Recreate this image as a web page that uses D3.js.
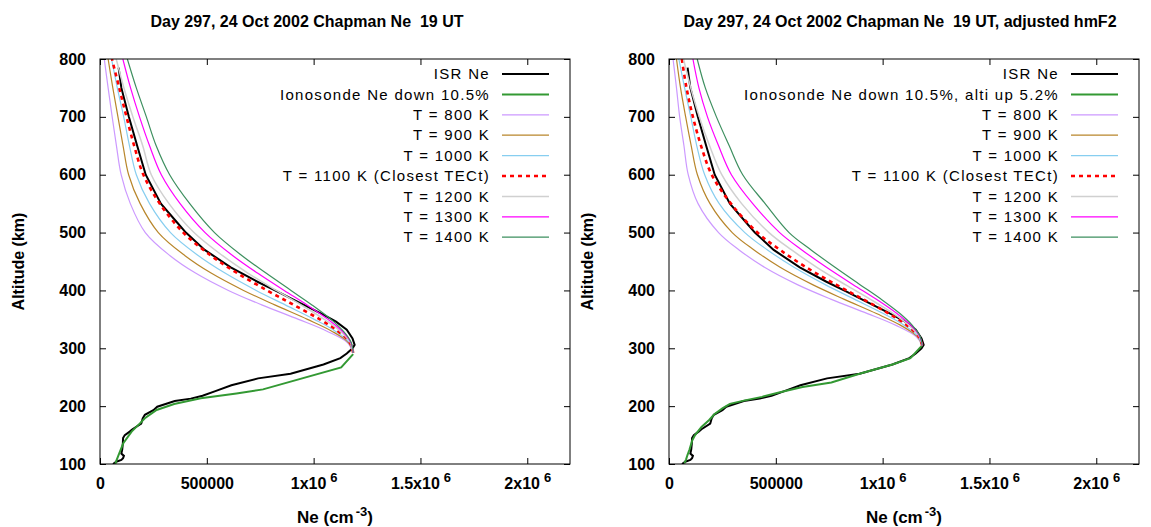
<!DOCTYPE html>
<html>
<head>
<meta charset="utf-8">
<script src="https://cdn.jsdelivr.net/npm/d3@7"></script>
<style>
body { margin: 0; background: #fff; }
text { font-family: "Liberation Sans", Arial, sans-serif; }
</style>
</head>
<body>
<svg id="chart" width="1151" height="527"></svg>
<script>
// Ne in units of 1000 cm^-3, altitude in km

// Chapman profiles, left panel (ionosonde hmF2)
var altL = [292, 310, 330, 350, 375, 400, 430, 460, 500, 550, 600, 650, 700, 750, 800];
var t800L  = [1185, 1158, 1060, 929, 757, 601, 447, 328, 212, 142, 99, 77, 57, 38, 20];
var t900L  = [1185, 1163, 1083, 971, 818, 672, 520, 398, 273, 188, 134, 108, 84, 60, 38];
var t1000L = [1185, 1167, 1100, 1003, 867, 731, 585, 461, 330, 232, 170, 138, 111, 81, 54];
var t1100L = [1185, 1170, 1113, 1029, 907, 782, 642, 520, 390, 280, 203, 160, 124, 90, 56];
var t1200L = [1185, 1172, 1123, 1050, 941, 825, 692, 574, 440, 323, 240, 200, 154, 112, 76];
var t1300L = [1185, 1174, 1132, 1067, 969, 862, 737, 622, 492, 375, 287, 232, 185, 143, 107];
var t1400L = [1185, 1176, 1138, 1081, 992, 894, 777, 665, 536, 420, 326, 263, 217, 170, 128];

// Chapman profiles, right panel (adjusted hmF2)
var altR = [305, 320, 340, 360, 385, 410, 440, 470, 500, 550, 600, 650, 700, 750, 800];
var t800R  = [1185, 1158, 1060, 929, 757, 601, 447, 328, 232, 136, 90, 70, 50, 35, 19];
var t900R  = [1185, 1163, 1083, 971, 818, 672, 520, 398, 296, 192, 133, 104, 78, 54, 35];
var t1000R = [1185, 1167, 1100, 1003, 867, 731, 585, 461, 355, 235, 167, 130, 102, 73, 46];
var t1100R = [1185, 1170, 1113, 1029, 907, 782, 642, 520, 414, 290, 200, 150, 112, 82, 60];
var t1200R = [1185, 1172, 1123, 1050, 941, 825, 692, 574, 468, 340, 247, 190, 142, 102, 68];
var t1300R = [1185, 1174, 1132, 1067, 969, 862, 737, 622, 518, 392, 292, 232, 180, 140, 112];
var t1400R = [1185, 1176, 1138, 1081, 992, 894, 777, 665, 562, 450, 345, 282, 222, 170, 132];

// ISR measured profile (same in both panels)
var isrAlt = [785, 750, 700, 650, 600, 550, 517, 500, 470, 440, 415, 398, 375, 358, 346, 332, 317, 306,
              300, 291, 283, 272, 256, 248, 236, 226, 218, 213, 209, 205, 199, 193, 185, 179, 170, 160,
              156, 150, 145, 136, 125, 118, 114, 110, 107, 104, 100];
var isrNe  = [87, 100, 135, 174, 214, 285, 362, 402, 490, 612, 737, 831, 954, 1045, 1105, 1155, 1182, 1192,
              1182, 1155, 1125, 1046, 892, 740, 615, 540, 480, 425, 350, 318, 268, 250, 210, 200, 193, 152,
              139, 116, 108, 107, 104, 100, 112, 108, 100, 76, 61];

// ionosonde profiles
var ionoAltL = [290, 267, 229, 222, 213.5, 203.7, 193.4, 179, 170.3, 155.9, 135.8, 118.5, 104, 100];
var ionoNeL  = [1185, 1129, 763, 639, 472, 347, 265, 210, 187, 148, 109, 90, 75, 72];
var ionoAltR = [305, 283, 272, 256, 241, 233, 223, 216, 210, 204, 196, 186, 176, 164, 150, 140, 125, 115, 108, 101];
var ionoNeR  = [1185, 1130, 1046, 892, 760, 625, 510, 435, 355, 285, 250, 212, 188, 152, 122, 108, 96, 86, 80, 72];

var tempLabels = ["T = 800 K", "T = 900 K", "T = 1000 K", "T = 1100 K (Closest TECt)", "T = 1200 K", "T = 1300 K", "T = 1400 K"];
var tempColors = ["#cc99ff", "#b8862b", "#87cef0", "#ff0000", "#d0d0d0", "#ff00ff", "#3d8f5f"];
var xTicks = [0, 500, 1000, 1500, 2000];
var yTicks = [100, 200, 300, 400, 500, 600, 700, 800];

var panels = [
    {x0: 100, x1: 570, titleX: 307, title: "Day 297, 24 Oct 2002 Chapman Ne  19 UT",
     alt: altL, temps: [t800L, t900L, t1000L, t1100L, t1200L, t1300L, t1400L],
     ionoAlt: ionoAltL, ionoNe: ionoNeL, ionoLabel: "Ionosonde Ne down 10.5%"},
    {x0: 669, x1: 1139, titleX: 900, title: "Day 297, 24 Oct 2002 Chapman Ne  19 UT, adjusted hmF2",
     alt: altR, temps: [t800R, t900R, t1000R, t1100R, t1200R, t1300R, t1400R],
     ionoAlt: ionoAltR, ionoNe: ionoNeR, ionoLabel: "Ionosonde Ne down 10.5%, alti up 5.2%"}
];

var svg = d3.select("#chart");
var yTop = 59, yBot = 464;

panels.forEach(function (p, pi) {
    var x = d3.scaleLinear().domain([0, 2200]).range([p.x0, p.x1]);
    var y = d3.scaleLinear().domain([100, 800]).range([yBot, yTop]);
    var g = svg.append("g");

    g.append("clipPath").attr("id", "clip" + pi)
        .append("rect").attr("x", p.x0).attr("y", yTop).attr("width", p.x1 - p.x0).attr("height", yBot - yTop);

    var line = d3.line()
        .x(function (d) { return x(d[1]); })
        .y(function (d) { return y(d[0]); });
    var smooth = d3.line()
        .x(function (d) { return x(d[1]); })
        .y(function (d) { return y(d[0]); })
        .curve(d3.curveCatmullRom);

    var plot = g.append("g").attr("clip-path", "url(#clip" + pi + ")");

    var isr = isrAlt.map(function (a, i) { return [a, isrNe[i]]; });
    plot.append("path").datum(isr).attr("d", line)
        .attr("fill", "none").attr("stroke", "#000").attr("stroke-width", 2);

    var iono = p.ionoAlt.map(function (a, i) { return [a, p.ionoNe[i]]; });
    plot.append("path").datum(iono).attr("d", line)
        .attr("fill", "none").attr("stroke", "#339933").attr("stroke-width", 2);

    p.temps.forEach(function (vals, k) {
        var pts = p.alt.map(function (a, i) { return [a, vals[i]]; });
        var path = plot.append("path").datum(pts).attr("d", smooth)
            .attr("fill", "none").attr("stroke", tempColors[k])
            .attr("stroke-width", k == 3 ? 2.6 : (k == 4 ? 1.5 : 1.2));
        if (k == 3) path.attr("stroke-dasharray", "4,4");
    });

    // frame
    g.append("rect").attr("x", p.x0).attr("y", yTop).attr("width", p.x1 - p.x0).attr("height", yBot - yTop)
        .attr("fill", "none").attr("stroke", "#000").attr("stroke-width", 1);

    // axes, ticks pointing inward
    var axL = g.append("g").attr("transform", "translate(" + p.x0 + ",0)")
        .call(d3.axisLeft(y).tickValues(yTicks).tickSize(-6).tickPadding(14).tickFormat(d3.format("d")));
    var axR = g.append("g").attr("transform", "translate(" + p.x1 + ",0)")
        .call(d3.axisRight(y).tickValues(yTicks).tickSize(-6).tickFormat(""));
    var axB = g.append("g").attr("transform", "translate(0," + yBot + ")")
        .call(d3.axisBottom(x).tickValues(xTicks).tickSize(-6).tickPadding(14));
    var axT = g.append("g").attr("transform", "translate(0," + yTop + ")")
        .call(d3.axisTop(x).tickValues(xTicks).tickSize(-6).tickFormat(""));
    [axL, axR, axB, axT].forEach(function (a) {
        a.select(".domain").remove();
        a.selectAll(".tick line").attr("stroke", "#000");
        a.selectAll(".tick text").attr("fill", "#000")
            .style("font-size", "16px").style("font-weight", "bold").style("font-family", "'Liberation Sans', Arial, sans-serif");
    });
    axB.selectAll(".tick text").each(function (d) {
        var t = d3.select(this);
        t.text(null);
        if (d === 0) t.text("0");
        else if (d === 500) t.text("500000");
        else {
            t.append("tspan").text((d / 1000) + "x10");
            t.append("tspan").attr("dx", 4).attr("dy", -7).style("font-size", "13px").text("6");
        }
    });

    // title and axis labels
    g.append("text").attr("x", p.titleX).attr("y", 27).attr("text-anchor", "middle")
        .style("font-size", "16px").style("font-weight", "bold").style("white-space", "pre")
        .text(p.title);

    var xl = g.append("text").attr("x", (p.x0 + p.x1) / 2).attr("y", 523).attr("text-anchor", "middle")
        .style("font-size", "17px").style("font-weight", "bold");
    xl.append("tspan").text("Ne (cm");
    xl.append("tspan").attr("dx", 2).attr("dy", -7).style("font-size", "13px").text("-3");
    xl.append("tspan").attr("dy", 7).text(")");

    g.append("text").attr("transform", "translate(" + (p.x0 - 76) + "," + ((yTop + yBot) / 2) + ") rotate(-90)")
        .attr("text-anchor", "middle").style("font-size", "16px").style("font-weight", "bold")
        .text("Altitude (km)");

    // legend
    var labels = ["ISR Ne", p.ionoLabel].concat(tempLabels);
    var colors = ["#000", "#339933"].concat(tempColors);
    var lx = p.x1 - 80;
    var leg = g.append("g");
    labels.forEach(function (lab, i) {
        var ly = 74 + i * 20.4;
        leg.append("text").attr("x", lx).attr("y", ly).attr("dy", "0.35em").attr("text-anchor", "end")
            .style("font-size", "15px").style("letter-spacing", "1.3px").text(lab);
        var ln = leg.append("line").attr("x1", lx + 12).attr("x2", lx + 59).attr("y1", ly).attr("y2", ly)
            .attr("stroke", colors[i])
            .attr("stroke-width", i < 2 ? 2 : (i == 5 ? 2.6 : (i == 6 ? 1.5 : 1.2)));
        if (i == 5) ln.attr("stroke-dasharray", "4,4");
    });
});
</script>
</body>
</html>
